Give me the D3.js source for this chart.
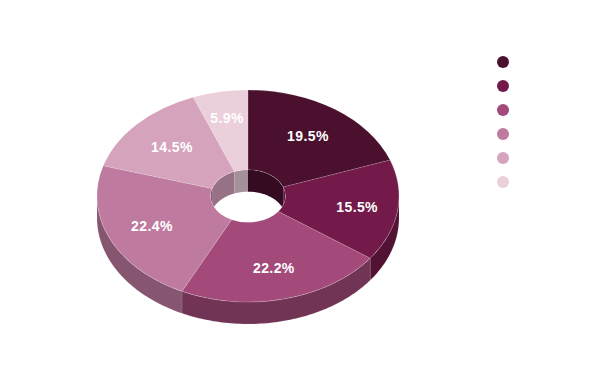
<!DOCTYPE html>
<html>
<head>
<meta charset="utf-8">
<script src="https://cdnjs.cloudflare.com/ajax/libs/d3/7.8.5/d3.min.js"></script>
<style>html,body{margin:0;padding:0;background:#fff}svg{display:block}</style>
</head>
<body>
<div id="chart"></div>
<script>
const categories = ["A", "B", "C", "D", "E", "F"];
const values = [19.5, 15.5, 22.2, 22.4, 14.5, 5.9];
const colors = ["#4a102e", "#731a4a", "#a34a7a", "#bf7aa0", "#d6a3bd", "#ebcfdb"];

const W = 600, H = 377;
const cx = 248, cy = 196, rOuter = 151, rInner = 37.5, squash = 0.702, depth = 22;
const wallFactor = 0.7;
const labelReach = [0.69, 0.73, 0.705, 0.695, 0.685, 0.75];
const TAU = Math.PI * 2;

const svg = d3.select("#chart").append("svg").attr("width", W).attr("height", H);
const pie = d3.pie().sort(null).value(d => d.value);
const slices = pie(categories.map((c, i) => ({ category: c, value: values[i], color: colors[i] })));
const radius = d3.scaleLinear().domain([0, 1]).range([0, rOuter]);

const px = (r, a) => cx + r * Math.sin(a);
const py = (r, a, dz) => cy - r * squash * Math.cos(a) + dz;
const shade = c => { const k = d3.rgb(c); return d3.rgb(k.r * wallFactor, k.g * wallFactor, k.b * wallFactor).formatHex(); };

function wallPath(r, a0, a1) {
  const n = Math.max(2, Math.ceil((a1 - a0) / 0.02));
  const t = d3.range(n + 1).map(i => a0 + (a1 - a0) * i / n);
  const top = t.map(a => [px(r, a), py(r, a, 0)]);
  const bottom = t.slice().reverse().map(a => [px(r, a), py(r, a, depth)]);
  return d3.line()(top.concat(bottom)) + "Z";
}
function overlap(a0, a1, b0, b1) {
  const s = Math.max(a0, b0), e = Math.min(a1, b1);
  return e > s ? [s, e] : null;
}

const defs = svg.append("defs");
defs.append("clipPath").attr("id", "hole").append("ellipse")
  .attr("cx", cx).attr("cy", cy).attr("rx", rInner).attr("ry", rInner * squash);

// outer wall: only the front half faces the viewer
const outerG = svg.append("g");
slices.forEach(s => {
  const o = overlap(s.startAngle, s.endAngle, TAU / 4, TAU * 3 / 4);
  if (!o) return;
  outerG.append("path").attr("d", wallPath(rOuter, o[0], o[1]))
    .attr("fill", shade(s.data.color)).attr("stroke", "#fff").attr("stroke-opacity", 0.15).attr("stroke-width", 0.7);
});

// inner wall: only the back half of the hole faces the viewer
const innerG = svg.append("g").attr("clip-path", "url(#hole)");
slices.forEach(s => {
  [[0, TAU / 4], [TAU * 3 / 4, TAU]].forEach(([b0, b1]) => {
    const o = overlap(s.startAngle, s.endAngle, b0, b1);
    if (!o) return;
    innerG.append("path").attr("d", wallPath(rInner, o[0], o[1])).attr("fill", shade(s.data.color));
  });
});

// top faces
const arc = d3.arc().innerRadius(rInner).outerRadius(radius(1));
svg.append("g").attr("transform", `translate(${cx},${cy}) scale(1,${squash})`)
  .selectAll("path").data(slices).join("path")
  .attr("d", arc)
  .attr("fill", d => d.data.color)
  .attr("stroke", "#fff").attr("stroke-opacity", 0.2).attr("stroke-width", 0.7)
  .attr("vector-effect", "non-scaling-stroke");

// labels
svg.append("g").selectAll("text").data(slices).join("text")
  .attr("x", (d, i) => px(radius(labelReach[i]), (d.startAngle + d.endAngle) / 2))
  .attr("y", (d, i) => py(radius(labelReach[i]), (d.startAngle + d.endAngle) / 2, 0))
  .attr("dy", "0.35em")
  .attr("text-anchor", "middle")
  .attr("font-family", "'Liberation Sans', Arial, sans-serif")
  .attr("font-size", 14).attr("font-weight", "bold").attr("fill", "#fff")
  .attr("letter-spacing", 0.4)
  .text(d => d.data.value.toFixed(1) + "%");

// legend markers
const legendY = d3.scalePoint().domain(categories).range([62, 182]);
svg.append("g").selectAll("circle").data(slices).join("circle")
  .attr("cx", 503).attr("cy", d => legendY(d.data.category)).attr("r", 6)
  .attr("fill", d => d.data.color);
</script>
</body>
</html>
